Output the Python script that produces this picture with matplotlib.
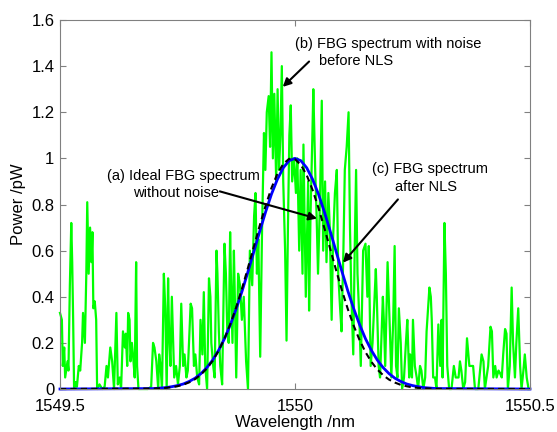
import numpy as np
import matplotlib
matplotlib.use("Agg")
import matplotlib.pyplot as plt

plt.rcParams['font.family'] = ['Liberation Sans', 'DejaVu Sans']

# noisy FBG spectrum (b)
noisy_wl = [1549.500, 1549.504, 1549.506, 1549.509, 1549.511, 1549.516, 1549.518, 1549.521, 1549.524, 1549.526,
            1549.528, 1549.530, 1549.533, 1549.536, 1549.540, 1549.543, 1549.547, 1549.549, 1549.553, 1549.556,
            1549.558, 1549.561, 1549.564, 1549.567, 1549.569, 1549.571, 1549.574, 1549.577, 1549.579, 1549.584,
            1549.590, 1549.595, 1549.599, 1549.602, 1549.607, 1549.611, 1549.615, 1549.620, 1549.623, 1549.627,
            1549.630, 1549.634, 1549.638, 1549.640, 1549.643, 1549.645, 1549.648, 1549.650, 1549.653, 1549.656,
            1549.659, 1549.662, 1549.664, 1549.667, 1549.677, 1549.687, 1549.694, 1549.698, 1549.701, 1549.705,
            1549.709, 1549.711, 1549.714, 1549.717, 1549.721, 1549.724, 1549.727, 1549.730, 1549.732, 1549.735,
            1549.738, 1549.743, 1549.747, 1549.751, 1549.755, 1549.758, 1549.762, 1549.765, 1549.769, 1549.772,
            1549.778, 1549.781, 1549.785, 1549.788, 1549.792, 1549.796, 1549.799, 1549.803, 1549.806, 1549.809,
            1549.813, 1549.817, 1549.820, 1549.822, 1549.826, 1549.829, 1549.833, 1549.835, 1549.838, 1549.841,
            1549.845, 1549.850, 1549.853, 1549.856, 1549.859, 1549.862, 1549.864, 1549.867, 1549.870, 1549.872,
            1549.875, 1549.879, 1549.883, 1549.887, 1549.891, 1549.896, 1549.900, 1549.904, 1549.909, 1549.913,
            1549.916, 1549.919, 1549.922, 1549.926, 1549.930, 1549.934, 1549.937, 1549.940, 1549.944, 1549.947,
            1549.950, 1549.953, 1549.956, 1549.960, 1549.963, 1549.966, 1549.969, 1549.972, 1549.975, 1549.979,
            1549.982, 1549.985, 1549.988, 1549.991, 1549.994, 1549.998, 1550.002, 1550.005, 1550.009, 1550.012,
            1550.016, 1550.018, 1550.023, 1550.028, 1550.030, 1550.033, 1550.037, 1550.039, 1550.043, 1550.046,
            1550.049, 1550.053, 1550.057, 1550.060, 1550.064, 1550.067, 1550.071, 1550.074, 1550.078, 1550.081,
            1550.085, 1550.089, 1550.092, 1550.096, 1550.099, 1550.103, 1550.106, 1550.110, 1550.114, 1550.117,
            1550.120, 1550.124, 1550.127, 1550.130, 1550.133, 1550.137, 1550.140, 1550.145, 1550.150, 1550.154,
            1550.157, 1550.161, 1550.165, 1550.172, 1550.174, 1550.178, 1550.181, 1550.187, 1550.189, 1550.192,
            1550.197, 1550.202, 1550.205, 1550.209, 1550.212, 1550.215, 1550.218, 1550.221, 1550.225, 1550.228,
            1550.232, 1550.236, 1550.239, 1550.243, 1550.245, 1550.249, 1550.251, 1550.255, 1550.259, 1550.262,
            1550.266, 1550.269, 1550.273, 1550.277, 1550.280, 1550.286, 1550.289, 1550.291, 1550.294, 1550.298,
            1550.301, 1550.305, 1550.309, 1550.312, 1550.314, 1550.318, 1550.321, 1550.324, 1550.328, 1550.333,
            1550.338, 1550.342, 1550.348, 1550.351, 1550.354, 1550.358, 1550.362, 1550.366, 1550.371, 1550.376,
            1550.379, 1550.383, 1550.390, 1550.397, 1550.401, 1550.404, 1550.411, 1550.416, 1550.419, 1550.422,
            1550.426, 1550.429, 1550.433, 1550.436, 1550.440, 1550.443, 1550.447, 1550.450, 1550.453, 1550.457,
            1550.461, 1550.464, 1550.468, 1550.471, 1550.475, 1550.479, 1550.482, 1550.486, 1550.489, 1550.493,
            1550.497]
noisy_pw = [0.33, 0.30, 0.10, 0.18, 0.05, 0.12, 0.08, 0.45, 0.72, 0.55,
            0.30, 0.00, 0.03, 0.01, 0.10, 0.08, 0.20, 0.33, 0.20, 0.50,
            0.81, 0.50, 0.70, 0.55, 0.68, 0.35, 0.38, 0.30, 0.00, 0.02,
            0.00, 0.01, 0.10, 0.05, 0.18, 0.12, 0.00, 0.33, 0.02, 0.05,
            0.00, 0.25, 0.18, 0.24, 0.10, 0.33, 0.30, 0.12, 0.20, 0.13,
            0.05, 0.55, 0.10, 0.00, 0.00, 0.00, 0.01, 0.20, 0.18, 0.12,
            0.00, 0.15, 0.10, 0.00, 0.50, 0.35, 0.00, 0.48, 0.25, 0.10,
            0.40, 0.05, 0.10, 0.02, 0.10, 0.37, 0.10, 0.15, 0.05, 0.08,
            0.37, 0.35, 0.10, 0.15, 0.05, 0.02, 0.30, 0.15, 0.42, 0.10,
            0.00, 0.48, 0.40, 0.20, 0.10, 0.05, 0.60, 0.50, 0.25, 0.10,
            0.02, 0.63, 0.50, 0.25, 0.20, 0.68, 0.45, 0.20, 0.60, 0.40,
            0.05, 0.50, 0.45, 0.30, 0.40, 0.12, 0.00, 0.60, 0.45, 0.75,
            0.85, 0.50, 0.65, 0.14, 0.70, 1.11, 0.95, 1.20, 1.27, 1.05,
            1.46, 1.00, 1.28, 0.90, 1.30, 0.95, 1.10, 1.40, 0.90, 0.60,
            0.21, 0.70, 1.10, 1.23, 0.90, 1.00, 0.85, 1.00, 0.60, 0.95,
            0.50, 1.06, 0.40, 0.90, 0.34, 0.75, 1.10, 1.30, 0.95, 0.75,
            0.50, 0.80, 1.25, 0.60, 0.90, 0.55, 0.85, 0.70, 0.30, 0.65,
            0.85, 0.95, 0.50, 0.35, 0.25, 0.60, 0.95, 1.05, 1.20, 0.70,
            0.40, 0.15, 0.60, 0.95, 0.50, 0.30, 0.10, 0.60, 0.63, 0.40,
            0.62, 0.10, 0.20, 0.52, 0.40, 0.10, 0.05, 0.40, 0.30, 0.10,
            0.55, 0.25, 0.05, 0.30, 0.62, 0.10, 0.05, 0.35, 0.20, 0.00,
            0.05, 0.20, 0.30, 0.05, 0.15, 0.05, 0.30, 0.10, 0.05, 0.00,
            0.10, 0.08, 0.00, 0.05, 0.25, 0.44, 0.40, 0.30, 0.05, 0.05,
            0.00, 0.28, 0.10, 0.30, 0.05, 0.72, 0.50, 0.10, 0.00, 0.00,
            0.10, 0.05, 0.05, 0.12, 0.08, 0.00, 0.03, 0.22, 0.10, 0.10,
            0.10, 0.00, 0.00, 0.15, 0.12, 0.00, 0.10, 0.27, 0.25, 0.05,
            0.10, 0.05, 0.08, 0.07, 0.05, 0.15, 0.26, 0.24, 0.00, 0.10,
            0.44, 0.20, 0.05, 0.20, 0.35, 0.10, 0.00, 0.08, 0.15, 0.05,
            0.00]

# ideal spectrum (a) and NLS fit (c), sampled every 0.0125 nm from 1549.7 to 1550.3
curve_wl = np.linspace(1549.7, 1550.3, 49)
ideal_pw = [0.002, 0.004, 0.006, 0.010, 0.015, 0.022, 0.033, 0.047, 0.067, 0.093,
            0.126, 0.168, 0.218, 0.279, 0.348, 0.425, 0.509, 0.596, 0.684, 0.768,
            0.845, 0.909, 0.959, 0.990, 1.000, 0.990, 0.959, 0.909, 0.845, 0.768,
            0.684, 0.596, 0.509, 0.425, 0.348, 0.279, 0.218, 0.168, 0.126, 0.093,
            0.067, 0.047, 0.033, 0.022, 0.015, 0.010, 0.006, 0.004, 0.002]
nls_pw = [0.002, 0.003, 0.005, 0.008, 0.012, 0.019, 0.029, 0.043, 0.063, 0.089,
          0.123, 0.166, 0.219, 0.282, 0.355, 0.437, 0.526, 0.618, 0.709, 0.795,
          0.872, 0.933, 0.976, 0.998, 0.996, 0.972, 0.927, 0.863, 0.785, 0.698,
          0.607, 0.515, 0.427, 0.346, 0.274, 0.212, 0.160, 0.118, 0.085, 0.060,
          0.041, 0.028, 0.018, 0.012, 0.007, 0.005, 0.003, 0.002, 0.001]

ideal_x = np.concatenate([[1549.5], curve_wl, [1550.5]])
ideal_y = np.concatenate([[0], ideal_pw, [0]])
nls_x = np.concatenate([[1549.5], curve_wl, [1550.5]])
nls_y = np.concatenate([[0], nls_pw, [0]])

fig = plt.figure(figsize=(5.57, 4.32), dpi=100)
ax = fig.add_axes([0.1077, 0.0995, 0.8438, 0.8542])

ax.plot(noisy_wl, noisy_pw, color='#00ff00', lw=1.6, clip_on=False)
ax.plot(ideal_x, ideal_y, color='#0000ff', lw=2.0, clip_on=False)
ax.plot(nls_x, nls_y, color='black', lw=1.5, ls=(0, (3, 2)), clip_on=False)

ax.set_xlim(1549.5, 1550.5)
ax.set_ylim(0, 1.6)
ax.set_xticks([1549.5, 1550, 1550.5])
ax.set_xticklabels(['1549.5', '1550', '1550.5'])
ax.set_yticks([0, 0.2, 0.4, 0.6, 0.8, 1, 1.2, 1.4, 1.6])
ax.set_yticklabels(['0', '0.2', '0.4', '0.6', '0.8', '1', '1.2', '1.4', '1.6'])
ax.tick_params(direction='in', length=4, width=0.8, color='#808080', labelsize=12,
               top=True, right=True, pad=4)
ax.tick_params(axis='x', pad=7)
for s in ax.spines.values():
    s.set_color('#808080')
    s.set_linewidth(0.8)

ax.set_xlabel('Wavelength /nm', fontsize=12, labelpad=1)
ax.set_ylabel('Power /pW', fontsize=12, labelpad=4)

arrow = dict(arrowstyle='-|>', color='black', lw=1.5, mutation_scale=12, shrinkA=0, shrinkB=0)
ax.annotate('', xy=(1549.974, 1.31), xytext=(1550.030, 1.42), arrowprops=arrow)
ax.annotate('', xy=(1550.047, 0.739), xytext=(1549.840, 0.857), arrowprops=arrow)
ax.annotate('', xy=(1550.102, 0.548), xytext=(1550.219, 0.822), arrowprops=arrow)

fs = 10.5
ax.text(1550.000, 1.497, '(b) FBG spectrum with noise', fontsize=fs, ha='left', va='center')
ax.text(1550.051, 1.423, 'before NLS', fontsize=fs, ha='left', va='center')
ax.text(1549.762, 0.922, '(a) Ideal FBG spectrum', fontsize=fs, ha='center', va='center')
ax.text(1549.746, 0.852, 'without noise', fontsize=fs, ha='center', va='center')
ax.text(1550.287, 0.952, '(c) FBG spectrum', fontsize=fs, ha='center', va='center')
ax.text(1550.279, 0.874, 'after NLS', fontsize=fs, ha='center', va='center')

fig.savefig('out.png', dpi=100)
